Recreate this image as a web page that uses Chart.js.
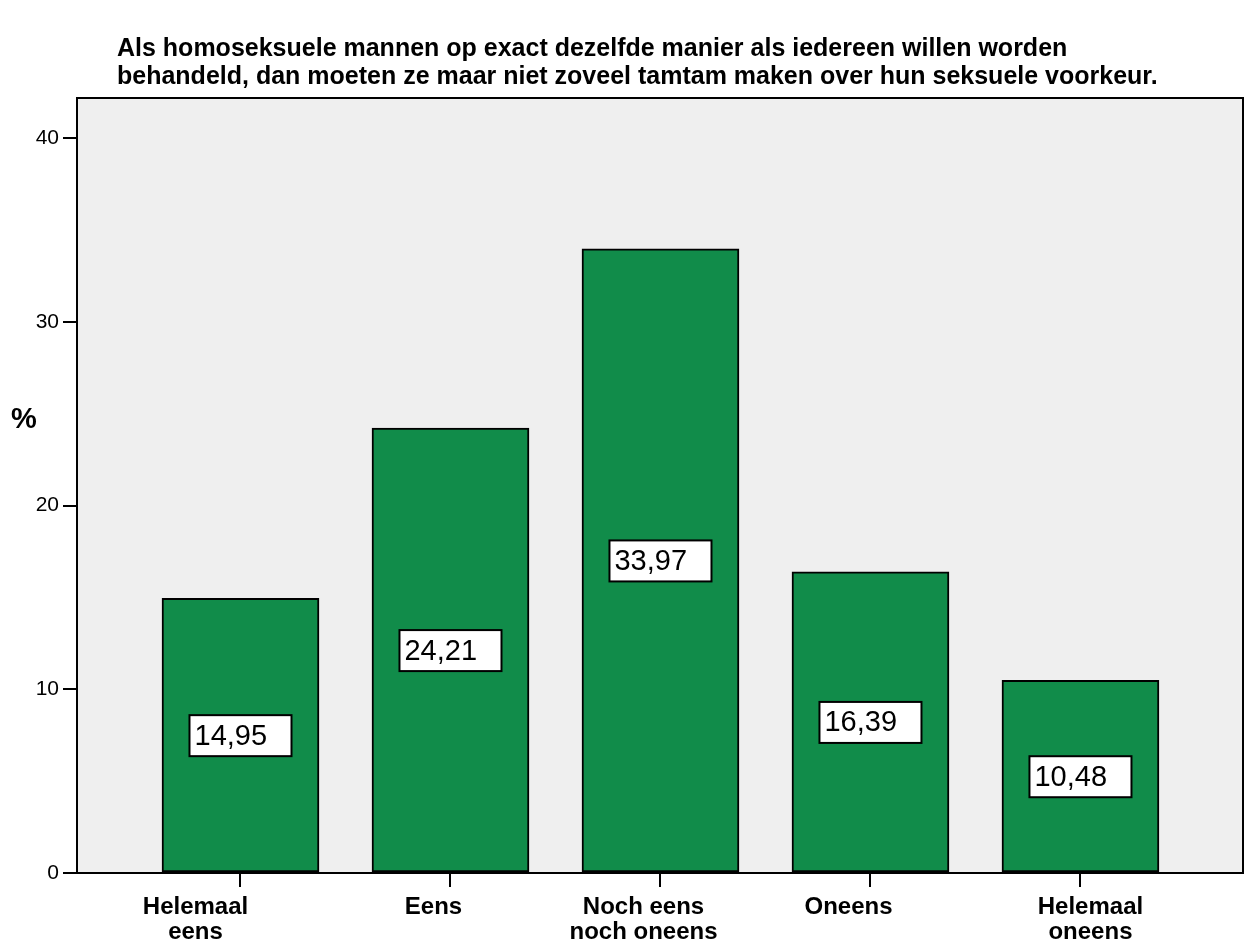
<!DOCTYPE html>
<html>
<head>
<meta charset="utf-8">
<script src="https://cdn.jsdelivr.net/npm/chart.js@4/dist/chart.umd.min.js"></script>
<style>
  html, body { margin: 0; padding: 0; background: #fff; }
  #wrap { width: 1247px; height: 941px; position: relative; }
</style>
</head>
<body>
<div id="wrap"><canvas id="chart"></canvas></div>
<script>
const categories = [["Helemaal", "eens"], ["Eens"], ["Noch eens", "noch oneens"], ["Oneens"], ["Helemaal", "oneens"]];
const percentages = [14.95, 24.21, 33.97, 16.39, 10.48];
const yTicks = [0, 10, 20, 30, 40];
const titleLines = [
  "Als homoseksuele mannen op exact dezelfde manier als iedereen willen worden",
  "behandeld, dan moeten ze maar niet zoveel tamtam maken over hun seksuele voorkeur."
];
// the original labels sit a bit off their tick marks
const labelShift = [-45, -17, -17, -22, 10];

const FONT = "'Liberation Sans', Arial, Helvetica, sans-serif";

// frame, background, title, axis labels and value boxes
const decor = {
  id: "decor",
  beforeDraw(chart) {
    const { ctx, chartArea: a } = chart;
    ctx.save();
    ctx.fillStyle = "#efefef";
    ctx.fillRect(a.left, a.top, a.right - a.left, a.bottom - a.top);
    ctx.restore();
  },
  afterDatasetsDraw(chart) {
    const { ctx, chartArea: a } = chart;
    ctx.save();
    ctx.strokeStyle = "#000";
    ctx.lineWidth = 2;
    ctx.strokeRect(a.left, a.top, a.right - a.left, a.bottom - a.top);

    // value boxes in middle of each bar
    const meta = chart.getDatasetMeta(0);
    const y = chart.scales.y;
    const x = chart.scales.x;
    ctx.font = "29px " + FONT;
    ctx.textBaseline = "middle";
    ctx.textAlign = "left";
    meta.data.forEach(function (bar, i) {
      const cy = y.getPixelForValue(percentages[i] / 2);
      const w = 102, h = 41;
      const bx = bar.x - w / 2, by = cy - h / 2;
      ctx.fillStyle = "#fff";
      ctx.fillRect(bx, by, w, h);
      ctx.lineWidth = 2;
      ctx.strokeStyle = "#000";
      ctx.strokeRect(bx, by, w, h);
      ctx.fillStyle = "#000";
      ctx.fillText(percentages[i].toFixed(2).replace(".", ","), bx + 5, cy + 1);
    });

    // category labels
    ctx.font = "bold 24px " + FONT;
    ctx.textAlign = "center";
    ctx.textBaseline = "alphabetic";
    categories.forEach(function (lines, i) {
      const cx = x.getPixelForValue(i) + labelShift[i];
      lines.forEach(function (t, j) {
        ctx.fillText(t, cx, a.bottom + 41 + j * 25);
      });
    });

    // title
    ctx.textAlign = "left";
    ctx.font = "bold 25px " + FONT;
    ctx.textBaseline = "middle";
    titleLines.forEach(function (t, i) {
      ctx.fillText(t, 117, 49 + i * 28);
    });

    // y axis title
    ctx.font = "bold 29px " + FONT;
    ctx.fillText("%", 11, 420);
    ctx.restore();
  }
};

new Chart(document.getElementById("chart"), {
  type: "bar",
  data: {
    datasets: [{
      data: percentages.map(function (v, i) { return { x: i, y: v }; }),
      backgroundColor: "rgb(17, 140, 74)",
      borderColor: "#000",
      borderWidth: 2,
      borderSkipped: false,
      barThickness: 157
    }]
  },
  options: {
    responsive: true,
    maintainAspectRatio: false,
    animation: false,
    layout: { padding: { top: 98, right: 4, left: 0, bottom: 0 } },
    plugins: { legend: { display: false }, tooltip: { enabled: false } },
    scales: {
      x: {
        type: "linear",
        offset: false,
        min: -0.7786,
        max: 4.774,
        afterBuildTicks: function (scale) {
          scale.ticks = categories.map(function (c, i) { return { value: i }; });
        },
        afterFit: function (scale) { scale.height = 68; },
        grid: { offset: false, drawOnChartArea: false, tickLength: 14, color: "#000", lineWidth: 2 },
        border: { display: false },
        ticks: { display: false }
      },
      y: {
        min: 0,
        max: 42.18,
        afterBuildTicks: function (scale) {
          scale.ticks = yTicks.map(function (v) { return { value: v }; });
        },
        afterFit: function (scale) { scale.width = 77; },
        grid: { drawOnChartArea: false, tickLength: 14, color: "#000", lineWidth: 2 },
        border: { display: false },
        ticks: {
          padding: 4,
          color: "#000",
          font: { family: FONT, size: 21 }
        }
      }
    }
  },
  plugins: [decor]
});
</script>
</body>
</html>
